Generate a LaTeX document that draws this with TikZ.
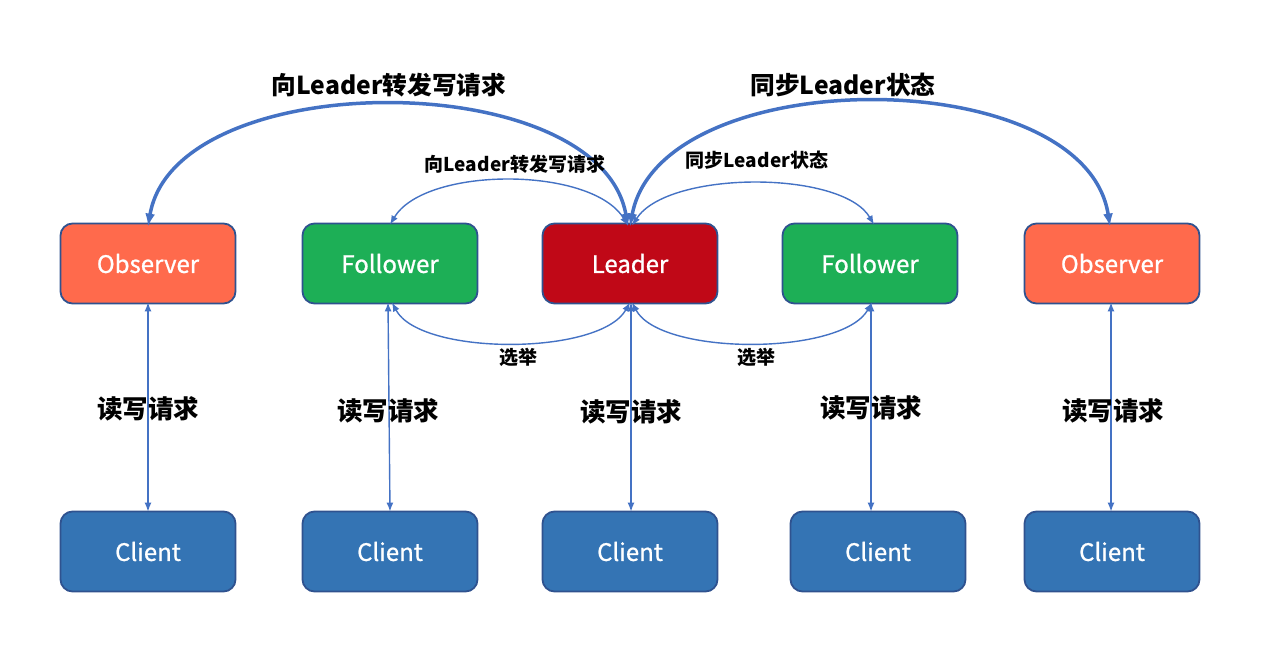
\documentclass[tikz,border=0pt]{standalone}
\usepackage{fontspec}
\setmainfont{Noto Sans CJK SC}
\newfontfamily\medfont[FakeBold=0.9]{Noto Sans CJK SC}
\usetikzlibrary{arrows.meta}
\definecolor{obsfill}{HTML}{FF6A4C}
\definecolor{folfill}{HTML}{1DAF56}
\definecolor{leadfill}{HTML}{C00817}
\definecolor{clifill}{HTML}{3474B4}
\definecolor{boxedge}{HTML}{2F528F}
\definecolor{arrowc}{HTML}{4472C4}
\begin{document}
\begin{tikzpicture}[x=1pt,y=-1pt,
  box/.style={draw=boxedge,line width=1.8pt,rounded corners=12pt,minimum width=175pt,minimum height=80pt,inner sep=0pt,text=white,font=\medfont\fontsize{24}{28}\selectfont},
  obs/.style={box,fill=obsfill},
  fol/.style={box,fill=folfill},
  lead/.style={box,fill=leadfill},
  cli/.style={box,fill=clifill},
  thin/.style={draw=arrowc,line width=1.4pt,{Latex[length=9pt,width=7pt]}-{Latex[length=9pt,width=7pt]}},
  thick/.style={draw=arrowc,line width=3.5pt,{Latex[length=13pt,width=10pt]}-{Latex[length=13pt,width=10pt]}},
  biglab/.style={font=\fontsize{24.7}{28}\selectfont\bfseries},
  smalllab/.style={font=\fontsize{19}{22}\selectfont\bfseries},
  rwlab/.style={font=\fontsize{25.5}{28}\selectfont\bfseries}
]
\useasboundingbox (0,0) rectangle (1266,650);
% boxes
\node[obs]  (ob1) at (148,263.5) {Observer};
\node[fol]  (fo1) at (390,263.5) {Follower};
\node[lead] (ld)  at (630,263.5) {Leader};
\node[fol]  (fo2) at (870,263.5) {Follower};
\node[obs]  (ob2) at (1112,263.5) {Observer};
\node[cli] (c1) at (148,551.5) {Client};
\node[cli] (c2) at (390,551.5) {Client};
\node[cli] (c3) at (630,551.5) {Client};
\node[cli] (c4) at (878,551.5) {Client};
\node[cli] (c5) at (1112,551.5) {Client};
% vertical read/write arrows
\draw[thin] ([yshift=2pt]ob1.south) -- ([yshift=-1pt]c1.north);
\draw[thin] ([xshift=-2pt,yshift=2pt]fo1.south) -- ([yshift=-1pt]fo1.south |- c2.north);
\draw[thin] ([xshift=1pt,yshift=2pt]ld.south) -- ([xshift=1pt,yshift=-1pt]ld.south |- c3.north);
\draw[thin] ([xshift=1pt,yshift=2pt]fo2.south) -- ([xshift=1pt,yshift=-1pt]fo2.south |- c4.north);
\draw[thin] ([xshift=-1pt,yshift=2pt]ob2.south) -- ([xshift=-1pt,yshift=-1pt]ob2.south |- c5.north);
\node[rwlab] (rw1) at (148,409) {读写请求};
\node[rwlab] (rw2) at (388,411) {读写请求};
\node[rwlab] (rw3) at (631,412) {读写请求};
\node[rwlab] (rw4) at (871,408) {读写请求};
\node[rwlab] (rw5) at (1113,411) {读写请求};
% top arcs
\draw[thick] ([xshift=-2pt,yshift=-4pt]ld.north) .. controls (600,65) and (175,65) .. ([yshift=-4pt]ob1.north);
\draw[thin] ([xshift=-2pt,yshift=-3pt]ld.north) .. controls (592,166) and (425,166) .. ([yshift=-2pt]fo1.north);
\draw[thick] ([yshift=-4pt]ld.north) .. controls (660,61) and (1085,61) .. ([xshift=-2pt,yshift=-4pt]ob2.north);
\draw[thin] ([xshift=2pt,yshift=-3pt]ld.north) .. controls (668,170) and (842,170) .. ([xshift=4pt,yshift=-2pt]fo2.north);
\node[biglab] (t1) at (389,85) {向Leader转发写请求};
\node[smalllab] (t2) at (515,164) {向Leader转发写请求};
\node[biglab] (t3) at (843,85) {同步Leader状态};
\node[smalllab] (t4) at (757,160) {同步Leader状态};
% bottom arcs
\draw[thin] ([yshift=2pt]ld.south) .. controls (600,356) and (420,356) .. ([xshift=2pt,yshift=2pt]fo1.south);
\draw[thin] ([xshift=2pt,yshift=2pt]ld.south) .. controls (660,356) and (842,356) .. ([xshift=2pt,yshift=2pt]fo2.south);
\node[smalllab] (e1) at (518,357) {选举};
\node[smalllab] (e2) at (756,357) {选举};
\end{tikzpicture}
\end{document}
